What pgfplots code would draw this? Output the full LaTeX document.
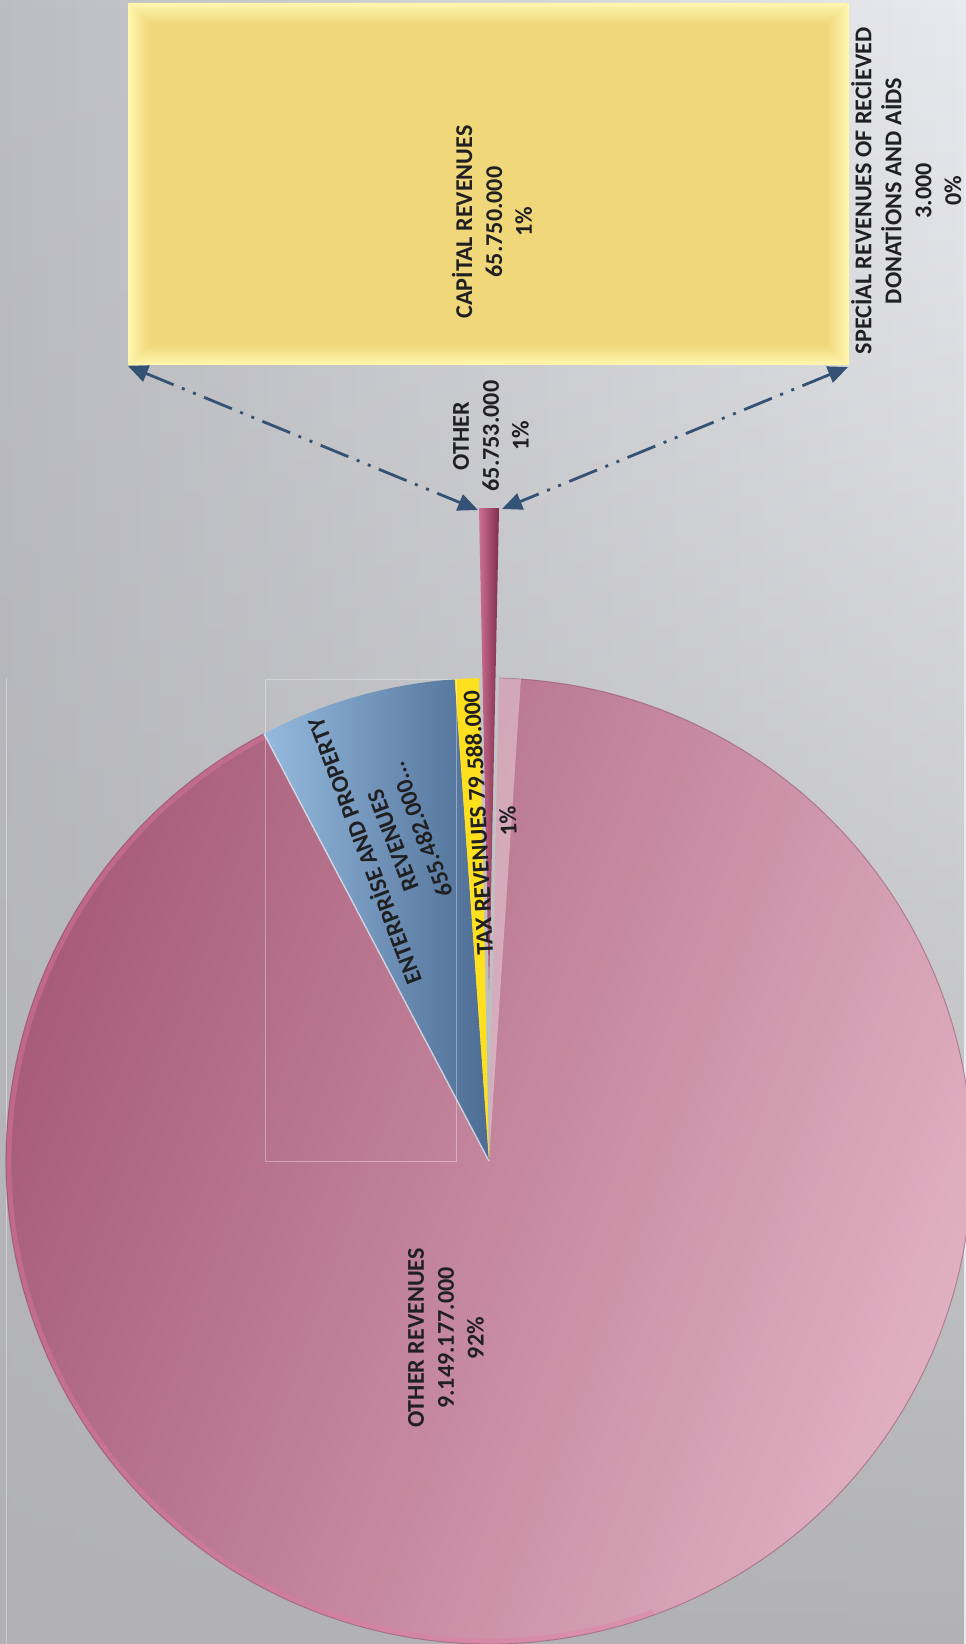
\documentclass[border=0pt]{standalone}
\usepackage{pgfplots}
\pgfplotsset{compat=1.18}
\usepackage{pgfplotstable}
\usepackage{fontspec}
\setmainfont{Carlito}
\usetikzlibrary{arrows.meta,fadings}

\definecolor{bgL}{RGB}{188,189,193}
\definecolor{bgR}{RGB}{233,234,237}
\definecolor{bgB}{RGB}{178,178,180}
\definecolor{pinkD}{RGB}{164,88,116}
\definecolor{pinkL}{RGB}{228,182,198}
\definecolor{pinkRim}{RGB}{228,122,160}
\definecolor{pinkEdge}{RGB}{140,72,98}
\definecolor{blueL}{RGB}{150,186,222}
\definecolor{blueD}{RGB}{76,108,148}
\definecolor{taxY}{RGB}{255,224,30}
\definecolor{othL}{RGB}{205,112,146}
\definecolor{othD}{RGB}{126,46,76}
\definecolor{barY}{RGB}{240,215,122}
\definecolor{barL}{RGB}{255,247,176}
\definecolor{conn}{RGB}{52,82,118}
\definecolor{lblc}{RGB}{32,32,34}

\tikzfading[name=fadeup, top color=transparent!100, bottom color=transparent!0]

\pgfplotstableread{
name value
OtherRevenues 9149.177
Enterprise 655.482
Tax 79.588
Other 65.753
}\pietable
\pgfplotstablegetelem{0}{value}\of\pietable \let\vA\pgfplotsretval
\pgfplotstablegetelem{1}{value}\of\pietable \let\vB\pgfplotsretval
\pgfplotstablegetelem{2}{value}\of\pietable \let\vC\pgfplotsretval
\pgfplotstablegetelem{3}{value}\of\pietable \let\vD\pgfplotsretval
\pgfmathsetmacro\tot{\vA+\vB+\vC+\vD}
\pgfmathsetmacro\dA{\vA/\tot*360}
\pgfmathsetmacro\dB{\vB/\tot*360}
\pgfmathsetmacro\dC{\vC/\tot*360}
\pgfmathsetmacro\dD{\vD/\tot*360}
\pgfmathsetmacro\sD{90-\dD/2}
\pgfmathsetmacro\eD{\sD+\dD}
\pgfmathsetmacro\eC{\eD+\dC}
\pgfmathsetmacro\eB{\eC+\dB}
\pgfmathsetmacro\eA{\eB+\dA}
\pgfmathsetmacro\hA{\sD-2.6}
\def\cx{489}\def\cy{1161}\def\R{483bp}
\tikzset{lbl/.style={align=center, text=lblc, inner sep=0pt,
  font=\fontsize{24.2}{30}\selectfont\bfseries}}

\begin{document}%
\begin{tikzpicture}
\useasboundingbox (0,0) rectangle (966bp,1644bp);
\clip (0,0) rectangle (966bp,1644bp);
\begin{axis}[at={(0,0)}, anchor=south west, width=966bp, height=1644bp,
  scale only axis, xmin=0, xmax=966, ymin=0, ymax=1644, y dir=reverse,
  hide axis, clip=true]
% background
\path[left color=bgL, right color=bgR] (axis cs:0,0) rectangle (axis cs:966,1644);
\path[fill=bgB, path fading=fadeup] (axis cs:0,0) rectangle (axis cs:966,1644);
\draw[white, opacity=0.35, line width=0.8bp] (axis cs:6,678) -- (axis cs:6,1644);
% other revenues slice
\path[left color=pinkD, right color=pinkL, shading angle=70]
  (axis cs:\cx,\cy) -- ++(\eB:\R) arc[start angle=\eB, end angle=\eA, radius=\R] -- cycle;
\draw[pinkRim, opacity=0.4, line width=5bp]
  (axis cs:\cx,\cy) ++(\eB:480bp) arc[start angle=\eB, end angle=290, radius=480bp];
\draw[pinkEdge, opacity=0.5, line width=1bp]
  (axis cs:\cx,\cy) ++(\eB:\R) arc[start angle=\eB, end angle=\eA, radius=\R];
\fill[white, opacity=0.35]
  (axis cs:\cx,\cy) -- ++(\sD:\R) arc[start angle=\sD, end angle=\hA, radius=\R] -- cycle;
% enterprise slice
\path[left color=blueL, right color=blueD]
  (axis cs:\cx,\cy) -- ++(\eC:\R) arc[start angle=\eC, end angle=\eB, radius=\R] -- cycle;
\draw[white!80!blueL, opacity=0.7, line width=1.4bp] (axis cs:\cx,\cy) -- ++(\eB:\R);
% tax slice
\fill[taxY] (axis cs:\cx,\cy) -- ++(\eD:\R) arc[start angle=\eD, end angle=\eC, radius=\R] -- cycle;
% exploded other slice
\path[left color=othL, right color=othD]
  (axis cs:\cx,991) -- ++(\sD:\R) arc[start angle=\sD, end angle=\eD, radius=\R] -- cycle;
% label box
\draw[white, opacity=0.35, line width=0.8bp] (axis cs:265,679) rectangle (axis cs:456,1161);
% connectors
\draw[conn, line width=2.8bp, dash pattern=on 30bp off 9bp on 3bp off 9bp on 3bp off 9bp,
  {Triangle[length=20bp,width=17bp]}-{Triangle[length=20bp,width=17bp]}]
  (axis cs:128,366) -- (axis cs:478,510);
\draw[conn, line width=2.8bp, dash pattern=on 30bp off 9bp on 3bp off 9bp on 3bp off 9bp,
  {Triangle[length=20bp,width=17bp]}-{Triangle[length=20bp,width=17bp]}]
  (axis cs:848,367) -- (axis cs:502,509);
% labels
\node[lbl, rotate=90] at (axis cs:446,1338) {OTHER REVENUES\\9.149.177.000\\92\%};
\node[lbl, rotate=110.7] at (axis cs:391,841) {ENTERPRİSE AND PROPERTY\\REVENUES\\655.482.000...};
\node[lbl, rotate=93] at (axis cs:493,822) {TAX REVENUES 79.588.000\\1\%};
\node[lbl, rotate=90] at (axis cs:491,436) {OTHER\\65.753.000\\1\%};
\end{axis}
\begin{axis}[at={(128bp,1279bp)}, anchor=south west, width=720bp, height=362bp,
  scale only axis, xmin=0, xmax=65.753, ymin=-0.5, ymax=0.5,
  xbar stacked, bar width=362bp, hide axis, clip=false,
  after end axis/.code={
    \def\bx{0.03}\def\by{0.058}
    \path[left color=barL, right color=barY] (rel axis cs:0,0) -- (rel axis cs:0,1) -- (rel axis cs:\bx,1-\by) -- (rel axis cs:\bx,\by) -- cycle;
    \path[left color=barY, right color=barL] (rel axis cs:1,0) -- (rel axis cs:1,1) -- (rel axis cs:1-\bx,1-\by) -- (rel axis cs:1-\bx,\by) -- cycle;
    \path[top color=barY, bottom color=barL] (rel axis cs:0,0) -- (rel axis cs:1,0) -- (rel axis cs:1-\bx,\by) -- (rel axis cs:\bx,\by) -- cycle;
    \path[top color=barL, bottom color=barY] (rel axis cs:0,1) -- (rel axis cs:1,1) -- (rel axis cs:1-\bx,1-\by) -- (rel axis cs:\bx,1-\by) -- cycle;
    \node[lbl, rotate=90] at (rel axis cs:0.5056,0.395) {CAPİTAL REVENUES\\65.750.000\\1\%};
    \node[lbl, rotate=90] at (rel axis cs:1.081,0.4807) {SPECİAL REVENUES OF RECİEVED\\DONATİONS AND AİDS\\3.000\\0\%};
  }]
\addplot[fill=barY, draw=none] coordinates {(65.750,0)};
\addplot[fill=barL, draw=none] coordinates {(0.003,0)};
\end{axis}
\end{tikzpicture}%
\end{document}
